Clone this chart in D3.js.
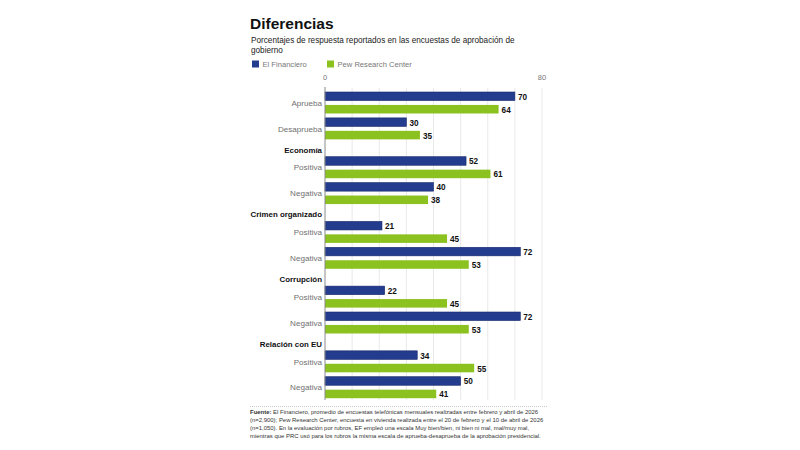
<!DOCTYPE html>
<html>
<head>
<meta charset="utf-8">
<script src="https://cdn.jsdelivr.net/npm/d3@7"></script>
<style>
  body { margin: 0; background: #fff; }
  svg { display: block; font-family: "Liberation Sans", Arial, sans-serif; }
  .grid line { stroke: #e3e3e3; stroke-width: 0.8; }
  .lbl { fill: #707070; font-size: 8.1px; }
  .hdr { fill: #111; font-size: 7.9px; font-weight: bold; }
  .val { fill: #111; font-size: 8.2px; font-weight: bold; }
  .tick { fill: #777; font-size: 7.5px; }
  .note { fill: #333; font-size: 5.95px; }
</style>
</head>
<body>
<div id="chart"></div>
<script>
(function(){

    // values
    const categories = ["Aprueba", "Desaprueba", "Positiva", "Negativa", "Positiva", "Negativa",
                        "Positiva", "Negativa", "Positiva", "Negativa"];
    const sections = ["", "", "Economía", "Economía", "Crimen organizado", "Crimen organizado",
                      "Corrupción", "Corrupción", "Relación con EU", "Relación con EU"];
    const financiero = [70, 30, 52, 40, 21, 72, 22, 72, 34, 50];
    const pew = [64, 35, 61, 38, 45, 53, 45, 53, 55, 41];
    const seriesNames = ["El Financiero", "Pew Research Center"];
    const seriesColors = ["#233c8e", "#8bc220"];
    const axisMax = 80;

    const noteLines = [
        ["Fuente:", " El Financiero, promedio de encuestas telefónicas mensuales realizadas entre febrero y abril de 2026"],
        ["", "(n=2,900); Pew Research Center, encuesta en vivienda realizada entre el 20 de febrero y el 10 de abril de 2026"],
        ["", "(n=1,050). En la evaluación por rubros, EF empleó una escala Muy bien/bien, ni bien ni mal, mal/muy mal,"],
        ["", "mientras que PRC usó para los rubros la misma escala de aprueba-desaprueba de la aprobación presidencial."]
    ];

    const W = 800, H = 450;
    const left = 250, labelX = 322;

    const svg = d3.select("#chart").append("svg")
        .attr("width", W)
        .attr("height", H);

    // Title block
    svg.append("text")
        .attr("x", left).attr("y", 28.5)
        .attr("fill", "#111")
        .style("font-size", "15.5px").style("font-weight", "bold")
        .text("Diferencias");

    svg.append("text")
        .attr("x", left + 1).attr("y", 42.5)
        .attr("fill", "#222").style("font-size", "8.2px")
        .text("Porcentajes de respuesta reportados en las encuestas de aprobación de");
    svg.append("text")
        .attr("x", left + 1).attr("y", 52.5)
        .attr("fill", "#222").style("font-size", "8.2px")
        .text("gobierno");

    // Legend
    const legendX = [252, 327];
    const legend = svg.selectAll(".legend")
        .data(seriesNames)
        .join("g")
        .attr("class", "legend")
        .attr("transform", (d, i) => `translate(${legendX[i]},60.5)`);
    legend.append("rect")
        .attr("width", 7).attr("height", 7)
        .attr("fill", (d, i) => seriesColors[i]);
    legend.append("text")
        .attr("x", 10.5).attr("y", 6.6)
        .attr("fill", "#777").style("font-size", "7.6px")
        .text(d => d);

    // Build slots: a header slot when a section starts, then one slot per bar
    const slots = [];
    categories.forEach((c, i) => {
        if (sections[i] && sections[i] !== sections[i - 1]) {
            slots.push({ key: "h" + i, type: "header", label: sections[i] });
        }
        slots.push({ key: "a" + i, type: "bar", i: i, s: 0, v: financiero[i] });
        slots.push({ key: "b" + i, type: "bar", i: i, s: 1, v: pew[i] });
    });

    const x = d3.scaleLinear().domain([0, axisMax]).range([325, 542]);
    const y = d3.scaleBand()
        .domain(slots.map(d => d.key))
        .range([89.8, 400.4])
        .paddingInner(0.34)
        .paddingOuter(0.17);

    // gridlines
    svg.append("g").attr("class", "grid")
        .selectAll("line")
        .data(x.ticks(8).filter(t => t > 0))
        .join("line")
        .attr("x1", d => x(d)).attr("x2", d => x(d))
        .attr("y1", 88).attr("y2", 400);

    // top tick labels
    svg.selectAll(".tick")
        .data([0, axisMax])
        .join("text")
        .attr("class", "tick")
        .attr("x", d => x(d))
        .attr("y", 79.5)
        .attr("text-anchor", "middle")
        .text(d => d);

    // bars
    const barSlots = slots.filter(d => d.type === "bar");
    svg.selectAll(".bar")
        .data(barSlots)
        .join("rect")
        .attr("class", "bar")
        .attr("x", x(0))
        .attr("y", d => y(d.key))
        .attr("width", d => x(d.v) - x(0))
        .attr("height", y.bandwidth())
        .attr("fill", d => seriesColors[d.s])
        .attr("stroke", d => d.s === 0 ? "#17296b" : "none")
        .attr("stroke-width", 0.6);

    svg.selectAll(".val")
        .data(barSlots)
        .join("text")
        .attr("class", "val")
        .attr("x", d => x(d.v) + 3)
        .attr("y", d => y(d.key) + y.bandwidth() / 2 + 3.5)
        .text(d => d.v);

    // category labels, centred between the pair of bars
    svg.selectAll(".lbl")
        .data(categories)
        .join("text")
        .attr("class", "lbl")
        .attr("x", labelX)
        .attr("y", (d, i) => (y("a" + i) + y("b" + i) + y.bandwidth()) / 2 + 3)
        .attr("text-anchor", "end")
        .text(d => d);

    // section headers
    svg.selectAll(".hdr")
        .data(slots.filter(d => d.type === "header"))
        .join("text")
        .attr("class", "hdr")
        .attr("x", labelX)
        .attr("y", d => y(d.key) + y.bandwidth() / 2 + 4.5)
        .attr("text-anchor", "end")
        .text(d => d.label);

    // zero axis
    svg.append("line")
        .attr("x1", x(0)).attr("x2", x(0))
        .attr("y1", 87).attr("y2", 400)
        .attr("stroke", "#8a8a8a").attr("stroke-width", 1);

    // separator
    svg.append("line")
        .attr("x1", 250).attr("x2", 548)
        .attr("y1", 406.5).attr("y2", 406.5)
        .attr("stroke", "#bbb").attr("stroke-width", 0.8)
        .attr("stroke-dasharray", "1,1");

    // source note
    const note = svg.selectAll(".note")
        .data(noteLines)
        .join("text")
        .attr("class", "note")
        .attr("x", left)
        .attr("y", (d, i) => 413.5 + i * 8);
    note.append("tspan").style("font-weight", "bold").text(d => d[0]);
    note.append("tspan").text(d => d[1]);

})();
</script>
</body>
</html>
